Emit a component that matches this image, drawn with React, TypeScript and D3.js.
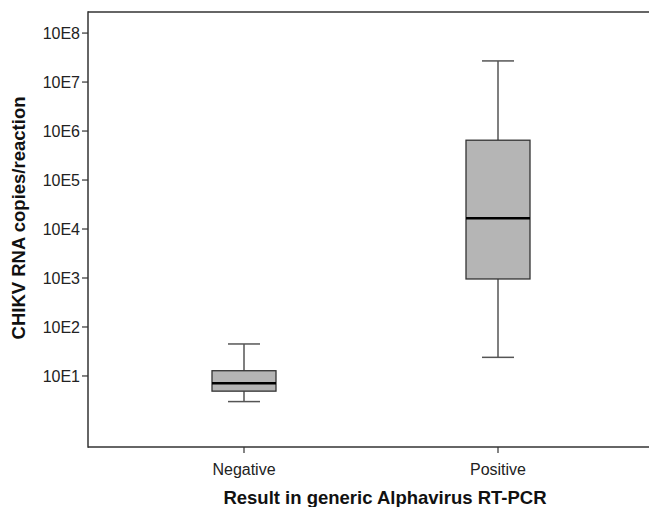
import React from "react";
import * as d3 from "d3";

const categories = ["Negative", "Positive"];
const whiskerLow = [3, 24];
const q1 = [4.9, 955];
const median = [7.1, 16500];
const q3 = [12.8, 650000];
const whiskerHigh = [45, 27000000];
const tickValues = [1e1, 1e2, 1e3, 1e4, 1e5, 1e6, 1e7, 1e8];
const tickLabels = ["10E1", "10E2", "10E3", "10E4", "10E5", "10E6", "10E7", "10E8"];

const W = 649;
const H = 507;
const left = 88;
const top = 12;
const bottom = 447;

export default function App() {
  const y = d3.scaleLog().domain([Math.pow(10, -0.45), Math.pow(10, 8.43)]).range([bottom, top]);
  const x = d3.scalePoint().domain(categories).range([244, 498]);
  const boxW = 64;
  const capW = 32;
  const font = "Arial, 'Liberation Sans', sans-serif";

  return (
    <svg width={W} height={H} style={{ position: "absolute", left: 0, top: 0, overflow: "hidden" }} fontFamily={font}>
      <rect x={0} y={0} width={W} height={H} fill="#fff" />
      {/* frame: no right edge */}
      <line x1={left} x2={W + 10} y1={top} y2={top} stroke="#333" strokeWidth={1.5} />
      <line x1={left} x2={W + 10} y1={bottom} y2={bottom} stroke="#333" strokeWidth={1.5} />
      <line x1={left} x2={left} y1={top - 0.75} y2={bottom + 0.75} stroke="#333" strokeWidth={1.5} />
      {/* y ticks */}
      {tickValues.map((v, i) => (
        <g key={v}>
          <line x1={left - 6} x2={left} y1={y(v)} y2={y(v)} stroke="#333" strokeWidth={1.2} />
          <text x={left - 8} y={y(v)} dy="0.35em" textAnchor="end" fontSize={16} fill="#222">
            {tickLabels[i]}
          </text>
        </g>
      ))}
      {/* x ticks */}
      {categories.map((c) => (
        <g key={c}>
          <line x1={x(c)} x2={x(c)} y1={bottom} y2={bottom + 6} stroke="#333" strokeWidth={1.2} />
          <text x={x(c)} y={bottom + 22} dy="0.35em" textAnchor="middle" fontSize={16} fill="#222">
            {c}
          </text>
        </g>
      ))}
      {/* boxes */}
      {categories.map((c, i) => {
        const cx = x(c) as number;
        return (
          <g key={c + "box"}>
            <line x1={cx} x2={cx} y1={y(whiskerHigh[i])} y2={y(q3[i])} stroke="#555" strokeWidth={1.5} />
            <line x1={cx} x2={cx} y1={y(q1[i])} y2={y(whiskerLow[i])} stroke="#555" strokeWidth={1.5} />
            <line x1={cx - capW / 2} x2={cx + capW / 2} y1={y(whiskerHigh[i])} y2={y(whiskerHigh[i])} stroke="#555" strokeWidth={1.5} />
            <line x1={cx - capW / 2} x2={cx + capW / 2} y1={y(whiskerLow[i])} y2={y(whiskerLow[i])} stroke="#555" strokeWidth={1.5} />
            <rect x={cx - boxW / 2} y={y(q3[i])} width={boxW} height={y(q1[i]) - y(q3[i])} fill="#b5b5b5" stroke="#333" strokeWidth={1.3} />
            <line x1={cx - boxW / 2} x2={cx + boxW / 2} y1={y(median[i])} y2={y(median[i])} stroke="#000" strokeWidth={2.5} />
          </g>
        );
      })}
      {/* axis titles */}
      <text x={385} y={498} dy="0.35em" textAnchor="middle" fontSize={18.5} fontWeight="bold" fill="#111">
        Result in generic Alphavirus RT-PCR
      </text>
      <text transform={`translate(19,218) rotate(-90)`} dy="0.35em" textAnchor="middle" fontSize={18.5} fontWeight="bold" fill="#111">
        CHIKV RNA copies/reaction
      </text>
    </svg>
  );
}
